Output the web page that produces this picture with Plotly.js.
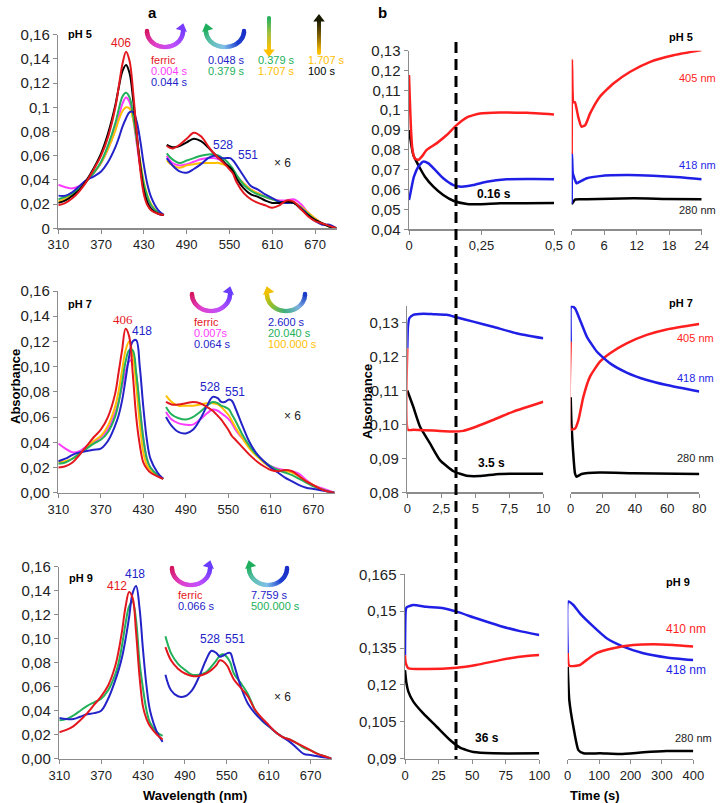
<!DOCTYPE html>
<html>
<head>
<meta charset="utf-8">
<script src="https://cdn.plot.ly/plotly-3.0.1.min.js"></script>
<style>
  body { margin: 0; background: #fff; }
  #chart { width: 720px; height: 803px; }
</style>
</head>
<body>
<div id="chart"></div>
<script>
// ---------- spectra (panel a) ----------
const SORET_NM = [310, 320, 330, 340, 350, 360, 370, 380, 390, 395, 400, 405, 410, 415, 420, 425, 430, 435, 440, 450, 458];
const VIS_NM = [462, 470, 480, 490, 500, 510, 520, 528, 535, 540, 545, 551, 555, 560, 570, 580, 590, 600, 610, 620, 630, 640, 650, 660, 670, 680, 690, 700];

// pH 5
const ph5_ferric_s = [0.019, 0.021, 0.025, 0.031, 0.039, 0.049, 0.060, 0.076, 0.100, 0.118, 0.136, 0.146, 0.138, 0.112, 0.078, 0.048, 0.028, 0.019, 0.015, 0.012, 0.011];
const ph5_100s_s = [0.021, 0.023, 0.027, 0.032, 0.040, 0.050, 0.062, 0.079, 0.102, 0.117, 0.130, 0.135, 0.128, 0.106, 0.078, 0.051, 0.031, 0.021, 0.016, 0.012, 0.011];
const ph5_0004_s = [0.036, 0.034, 0.033, 0.035, 0.040, 0.046, 0.054, 0.066, 0.082, 0.093, 0.103, 0.108, 0.104, 0.090, 0.070, 0.050, 0.033, 0.024, 0.018, 0.012, 0.011];
const ph5_0379_s = [0.024, 0.026, 0.029, 0.033, 0.039, 0.046, 0.055, 0.069, 0.087, 0.099, 0.109, 0.112, 0.108, 0.093, 0.073, 0.053, 0.036, 0.026, 0.019, 0.013, 0.011];
const ph5_1707_s = [0.022, 0.025, 0.028, 0.033, 0.039, 0.046, 0.054, 0.066, 0.081, 0.090, 0.097, 0.100, 0.099, 0.090, 0.073, 0.055, 0.038, 0.027, 0.020, 0.013, 0.011];
const ph5_0044_s = [0.027, 0.027, 0.030, 0.035, 0.040, 0.043, 0.047, 0.055, 0.067, 0.075, 0.084, 0.091, 0.096, 0.096, 0.088, 0.072, 0.052, 0.036, 0.026, 0.015, 0.011];

const ph5_ferric_v = [0.068, 0.066, 0.069, 0.074, 0.079, 0.076, 0.068, 0.062, 0.058, 0.055, 0.052, 0.048, 0.045, 0.038, 0.029, 0.024, 0.021, 0.019, 0.017, 0.019, 0.023, 0.022, 0.016, 0.010, 0.006, 0.004, 0.002, 0.000];
const ph5_100s_v = [0.069, 0.067, 0.068, 0.071, 0.074, 0.072, 0.067, 0.062, 0.058, 0.056, 0.053, 0.050, 0.047, 0.041, 0.033, 0.028, 0.026, 0.023, 0.021, 0.021, 0.022, 0.021, 0.016, 0.011, 0.007, 0.004, 0.0015, 0.000];
const ph5_0044_v = [0.058, 0.052, 0.047, 0.046, 0.049, 0.053, 0.058, 0.060, 0.059, 0.058, 0.058, 0.058, 0.056, 0.052, 0.043, 0.035, 0.032, 0.028, 0.025, 0.022, 0.021, 0.021, 0.017, 0.011, 0.006, 0.003, 0.003, 0.000];
const ph5_0379_v = [0.062, 0.057, 0.054, 0.056, 0.058, 0.060, 0.061, 0.061, 0.060, 0.058, 0.056, 0.052, 0.049, 0.044, 0.036, 0.031, 0.028, 0.026, 0.024, 0.022, 0.021, 0.021, 0.017, 0.012, 0.007, 0.004, 0.0015, 0.000];
const ph5_0004_v = [0.060, 0.054, 0.052, 0.053, 0.055, 0.057, 0.058, 0.058, 0.057, 0.055, 0.053, 0.050, 0.047, 0.043, 0.037, 0.032, 0.029, 0.026, 0.024, 0.023, 0.023, 0.024, 0.020, 0.013, 0.008, 0.004, 0.0015, 0.000];
const ph5_1707_v = [0.056, 0.052, 0.050, 0.052, 0.053, 0.054, 0.054, 0.054, 0.054, 0.053, 0.052, 0.050, 0.047, 0.043, 0.037, 0.032, 0.029, 0.026, 0.024, 0.022, 0.021, 0.021, 0.018, 0.013, 0.008, 0.004, 0.0015, 0.000];

// pH 7
const ph7_ferric_s = [0.020, 0.021, 0.024, 0.030, 0.037, 0.044, 0.050, 0.060, 0.078, 0.095, 0.113, 0.130, 0.124, 0.095, 0.060, 0.038, 0.024, 0.019, 0.016, 0.013, 0.011];
const ph7_100000_s = [0.024, 0.025, 0.027, 0.031, 0.036, 0.041, 0.045, 0.053, 0.068, 0.080, 0.097, 0.113, 0.120, 0.110, 0.085, 0.055, 0.032, 0.022, 0.018, 0.014, 0.011];
const ph7_20040_s = [0.023, 0.024, 0.027, 0.031, 0.035, 0.039, 0.042, 0.048, 0.060, 0.071, 0.087, 0.104, 0.113, 0.113, 0.095, 0.068, 0.043, 0.027, 0.020, 0.014, 0.011];
const ph7_0007_s = [0.039, 0.035, 0.032, 0.033, 0.037, 0.040, 0.044, 0.050, 0.063, 0.072, 0.084, 0.096, 0.104, 0.105, 0.093, 0.068, 0.043, 0.027, 0.020, 0.014, 0.011];
const ph7_0064_s = [0.025, 0.027, 0.030, 0.032, 0.033, 0.034, 0.035, 0.041, 0.053, 0.061, 0.073, 0.090, 0.108, 0.120, 0.121, 0.100, 0.068, 0.042, 0.027, 0.016, 0.011];

const ph7_ferric_v = [0.072, 0.070, 0.070, 0.071, 0.072, 0.071, 0.068, 0.065, 0.061, 0.058, 0.054, 0.049, 0.045, 0.042, 0.036, 0.030, 0.025, 0.021, 0.018, 0.017, 0.018, 0.017, 0.013, 0.009, 0.006, 0.003, 0.001, 0.000];
const ph7_100000_v = [0.077, 0.072, 0.069, 0.069, 0.069, 0.070, 0.071, 0.071, 0.070, 0.068, 0.065, 0.061, 0.057, 0.052, 0.043, 0.035, 0.029, 0.024, 0.020, 0.018, 0.017, 0.016, 0.013, 0.009, 0.006, 0.003, 0.001, 0.000];
const ph7_20040_v = [0.068, 0.062, 0.059, 0.058, 0.060, 0.064, 0.069, 0.072, 0.071, 0.069, 0.068, 0.066, 0.062, 0.057, 0.046, 0.037, 0.030, 0.025, 0.021, 0.018, 0.016, 0.014, 0.011, 0.008, 0.005, 0.003, 0.001, 0.000];
const ph7_0007_v = [0.064, 0.058, 0.055, 0.054, 0.054, 0.058, 0.063, 0.066, 0.065, 0.063, 0.061, 0.058, 0.055, 0.050, 0.043, 0.036, 0.030, 0.025, 0.021, 0.019, 0.018, 0.017, 0.015, 0.010, 0.006, 0.004, 0.002, 0.000];
const ph7_0064_v = [0.060, 0.053, 0.048, 0.047, 0.050, 0.058, 0.069, 0.076, 0.075, 0.072, 0.072, 0.074, 0.073, 0.067, 0.053, 0.040, 0.031, 0.025, 0.020, 0.016, 0.012, 0.009, 0.006, 0.004, 0.003, 0.002, 0.001, 0.000];

// pH 9
const ph9_ferric_s = [0.022, 0.024, 0.027, 0.032, 0.038, 0.045, 0.052, 0.061, 0.077, 0.090, 0.107, 0.127, 0.139, 0.134, 0.105, 0.068, 0.043, 0.033, 0.027, 0.020, 0.016];
const ph9_500000_s = [0.032, 0.033, 0.036, 0.040, 0.044, 0.047, 0.050, 0.057, 0.070, 0.080, 0.095, 0.113, 0.127, 0.131, 0.115, 0.080, 0.058, 0.040, 0.030, 0.022, 0.019];
const ph9_0066_s = [0.034, 0.033, 0.033, 0.035, 0.037, 0.038, 0.040, 0.050, 0.065, 0.074, 0.085, 0.100, 0.118, 0.138, 0.144, 0.125, 0.090, 0.060, 0.040, 0.022, 0.014];

const ph9_ferric_v = [0.093, 0.082, 0.075, 0.071, 0.069, 0.069, 0.071, 0.074, 0.078, 0.082, 0.081, 0.077, 0.072, 0.066, 0.059, 0.052, 0.041, 0.034, 0.028, 0.022, 0.018, 0.016, 0.013, 0.010, 0.007, 0.004, 0.002, 0.000];
const ph9_500000_v = [0.102, 0.088, 0.079, 0.074, 0.070, 0.070, 0.072, 0.077, 0.082, 0.086, 0.087, 0.084, 0.080, 0.071, 0.063, 0.054, 0.041, 0.032, 0.027, 0.022, 0.018, 0.016, 0.013, 0.009, 0.007, 0.004, 0.002, 0.000];
const ph9_0066_v = [0.070, 0.057, 0.052, 0.052, 0.057, 0.068, 0.082, 0.090, 0.088, 0.085, 0.086, 0.088, 0.088, 0.079, 0.060, 0.046, 0.038, 0.032, 0.027, 0.022, 0.018, 0.014, 0.009, 0.004, 0.003, 0.002, 0.001, 0.000];

// ---------- kinetics (panel b) ----------
// pH 5, 0-0.5 s
const k5a_t405 = [0, 0.003, 0.007, 0.012, 0.02, 0.032, 0.044, 0.061, 0.095, 0.13, 0.164, 0.2, 0.245, 0.314, 0.406, 0.5];
const k5a_405 = [0.1177, 0.105, 0.090, 0.080, 0.0757, 0.0749, 0.0766, 0.080, 0.0833, 0.0875, 0.0925, 0.0964, 0.0984, 0.0989, 0.0987, 0.0979];
const k5a_t418 = [0, 0.004, 0.01, 0.017, 0.032, 0.049, 0.067, 0.09, 0.118, 0.153, 0.18, 0.222, 0.268, 0.337, 0.43, 0.5];
const k5a_418 = [0.0548, 0.0575, 0.0620, 0.0665, 0.0715, 0.0741, 0.0732, 0.0699, 0.0657, 0.0623, 0.0615, 0.0623, 0.0640, 0.0652, 0.0653, 0.0652];
const k5a_t280 = [0, 0.015, 0.032, 0.055, 0.084, 0.118, 0.153, 0.2, 0.245, 0.314, 0.5];
const k5a_280 = [0.090, 0.0774, 0.0724, 0.0665, 0.0615, 0.0573, 0.0544, 0.0528, 0.0526, 0.0531, 0.0533];
// pH 5, 0-24 s
const k5b_t405 = [0, 0.05, 0.15, 0.3, 0.6, 1.2, 1.8, 2.5, 3.4, 5.2, 7.7, 10.8, 14.5, 18.8, 24];
const k5b_405 = [0.078, 0.1255, 0.110, 0.104, 0.104, 0.0967, 0.0917, 0.0925, 0.0984, 0.1068, 0.1135, 0.1194, 0.1244, 0.1277, 0.1303];
const k5b_t418 = [0, 0.05, 0.2, 0.4, 0.9, 1.5, 2.8, 5.2, 10.1, 15, 20, 24];
const k5b_418 = [0.053, 0.078, 0.0682, 0.0665, 0.0632, 0.0640, 0.0657, 0.0668, 0.0673, 0.0670, 0.0662, 0.0652];
const k5b_t280 = [0, 0.1, 0.6, 2.8, 11.4, 17.5, 24];
const k5b_280 = [0.0535, 0.0530, 0.0550, 0.0551, 0.0556, 0.0553, 0.0551];

// pH 7, 0-10 s
const k7a_t418 = [0, 0.05, 0.15, 0.44, 1.18, 1.9, 2.9, 3.6, 4.85, 6.3, 8.0, 10];
const k7a_418 = [0.1224, 0.129, 0.1313, 0.1323, 0.1326, 0.1325, 0.1323, 0.1316, 0.1303, 0.1288, 0.1269, 0.1254];
const k7a_t405 = [0, 0.05, 0.44, 1.9, 3.4, 4.1, 5.1, 6.3, 7.8, 10];
const k7a_405 = [0.1224, 0.0984, 0.0984, 0.0982, 0.0979, 0.0981, 0.0994, 0.1013, 0.1038, 0.1067];
const k7a_t280 = [0, 0.44, 0.93, 1.67, 2.4, 3.4, 4.36, 5.3, 6.8, 10];
const k7a_280 = [0.110, 0.1052, 0.0994, 0.0944, 0.0895, 0.0862, 0.0849, 0.0848, 0.0854, 0.0855];
// pH 7, 0-80 s
const k7b_t418 = [0, 0.2, 0.6, 2.7, 5.8, 10, 16.2, 24.5, 34.8, 47.3, 59.7, 80];
const k7b_418 = [0.1244, 0.1349, 0.1349, 0.1342, 0.1308, 0.1259, 0.1215, 0.1180, 0.1153, 0.1131, 0.1116, 0.1097];
const k7b_t405 = [0, 0.2, 2.7, 4.8, 7.9, 12, 18.2, 24.5, 34.8, 47.3, 59.7, 80];
const k7b_405 = [0.1244, 0.0985, 0.0988, 0.1013, 0.1082, 0.1141, 0.1185, 0.1210, 0.1239, 0.1264, 0.1280, 0.1296];
const k7b_t280 = [0, 0.5, 1.5, 2.7, 3.7, 6.8, 18.2, 39, 80];
const k7b_280 = [0.108, 0.100, 0.092, 0.0855, 0.0846, 0.0854, 0.0858, 0.0856, 0.0854];

// pH 9, 0-100 s
const k9a_t418 = [0, 0.5, 1.2, 6.2, 16, 28.5, 38.5, 53, 70.7, 85.6, 100];
const k9a_418 = [0.132, 0.150, 0.1516, 0.1525, 0.1518, 0.1512, 0.1498, 0.1471, 0.1440, 0.1419, 0.1403];
const k9a_t410 = [0, 0.5, 2.5, 16, 38.5, 53, 70.7, 85.6, 100];
const k9a_410 = [0.132, 0.129, 0.1268, 0.1265, 0.1270, 0.1281, 0.1301, 0.1315, 0.1322];
const k9a_t280 = [0, 1, 2.5, 6.2, 13.6, 23.6, 33.5, 41, 50.9, 65.8, 100];
const k9a_280 = [0.126, 0.121, 0.1173, 0.1132, 0.1084, 0.1030, 0.0976, 0.0945, 0.0927, 0.0922, 0.0922];
// pH 9, 0-400 s
const k9b_t418 = [0, 2, 18, 39, 82, 124, 177, 241, 315, 400];
const k9b_418 = [0.133, 0.1539, 0.1525, 0.1491, 0.1437, 0.1390, 0.1356, 0.1329, 0.1312, 0.1301];
const k9b_t410 = [0, 5, 39, 60, 92, 145, 209, 273, 336, 400];
const k9b_410 = [0.133, 0.1278, 0.1281, 0.1301, 0.1329, 0.1349, 0.1362, 0.1365, 0.1362, 0.1356];
const k9b_t280 = [0, 5, 18, 34, 50, 103, 167, 241, 315, 400];
const k9b_280 = [0.1274, 0.1139, 0.1030, 0.0935, 0.0922, 0.0922, 0.0919, 0.0926, 0.0931, 0.0931];

// tick labels
const WL_TICKS = [310, 370, 430, 490, 550, 610, 670];
const SPEC_Y = [0, 0.02, 0.04, 0.06, 0.08, 0.1, 0.12, 0.14, 0.16];
const SPEC_Y_TXT5 = ['0', '0,02', '0,04', '0,06', '0,08', '0,1', '0,12', '0,14', '0,16'];
const SPEC_Y_TXT = ['0,00', '0,02', '0,04', '0,06', '0,08', '0,10', '0,12', '0,14', '0,16'];
const K5_Y = [0.04, 0.05, 0.06, 0.07, 0.08, 0.09, 0.1, 0.11, 0.12, 0.13];
const K5_Y_TXT = ['0,04', '0,05', '0,06', '0,07', '0,08', '0,09', '0,1', '0,11', '0,12', '0,13'];
const K7_Y = [0.08, 0.09, 0.10, 0.11, 0.12, 0.13];
const K7_Y_TXT = ['0,08', '0,09', '0,10', '0,11', '0,12', '0,13'];
const K9_Y = [0.09, 0.105, 0.12, 0.135, 0.15, 0.165];
const K9_Y_TXT = ['0,09', '0,105', '0,12', '0,135', '0,15', '0,165'];

const RED = '#e3171e', MAG = '#ff3cff', BLUE = '#2323c8', GREEN = '#22b05a', YEL = '#ffc000', BLK = '#000000';
const KRED = '#ff1f1f', KBLUE = '#1f1fe6';
const FONT = 'Liberation Sans, Arial, sans-serif';
const W = 720, H = 803;

const fx = p => p / W;
const fy = p => 1 - p / H;

const traces = [];

function spectrum(xa, ya, color, soret, vis) {
  [[SORET_NM, soret], [VIS_NM, vis]].forEach(([x, y]) => {
    traces.push({
      type: 'scatter', mode: 'lines', x: x, y: y, xaxis: xa, yaxis: ya,
      line: { color: color, width: 2, shape: 'spline', smoothing: 1 },
      hoverinfo: 'skip', showlegend: false
    });
  });
}

function kinetic(xa, ya, color, t, v) {
  traces.push({
    type: 'scatter', mode: 'lines', x: t, y: v, xaxis: xa, yaxis: ya,
    line: { color: color, width: 2.5, shape: 'spline', smoothing: 0.5 },
    hoverinfo: 'skip', showlegend: false
  });
}

// order: lighter first, ferric drawn last like the original
spectrum('x', 'y', MAG, ph5_0004_s, ph5_0004_v);
spectrum('x', 'y', YEL, ph5_1707_s, ph5_1707_v);
spectrum('x', 'y', GREEN, ph5_0379_s, ph5_0379_v);
spectrum('x', 'y', BLUE, ph5_0044_s, ph5_0044_v);
spectrum('x', 'y', BLK, ph5_100s_s, ph5_100s_v);
spectrum('x', 'y', RED, ph5_ferric_s, ph5_ferric_v);

spectrum('x2', 'y2', MAG, ph7_0007_s, ph7_0007_v);
spectrum('x2', 'y2', YEL, ph7_100000_s, ph7_100000_v);
spectrum('x2', 'y2', GREEN, ph7_20040_s, ph7_20040_v);
spectrum('x2', 'y2', BLUE, ph7_0064_s, ph7_0064_v);
spectrum('x2', 'y2', RED, ph7_ferric_s, ph7_ferric_v);

spectrum('x3', 'y3', GREEN, ph9_500000_s, ph9_500000_v);
spectrum('x3', 'y3', BLUE, ph9_0066_s, ph9_0066_v);
spectrum('x3', 'y3', RED, ph9_ferric_s, ph9_ferric_v);

kinetic('x4', 'y4', BLK, k5a_t280, k5a_280);
kinetic('x4', 'y4', KBLUE, k5a_t418, k5a_418);
kinetic('x4', 'y4', KRED, k5a_t405, k5a_405);
kinetic('x5', 'y4', BLK, k5b_t280, k5b_280);
kinetic('x5', 'y4', KBLUE, k5b_t418, k5b_418);
kinetic('x5', 'y4', KRED, k5b_t405, k5b_405);

kinetic('x6', 'y6', BLK, k7a_t280, k7a_280);
kinetic('x6', 'y6', KBLUE, k7a_t418, k7a_418);
kinetic('x6', 'y6', KRED, k7a_t405, k7a_405);
kinetic('x7', 'y6', BLK, k7b_t280, k7b_280);
kinetic('x7', 'y6', KRED, k7b_t405, k7b_405);
kinetic('x7', 'y6', KBLUE, k7b_t418, k7b_418);

kinetic('x8', 'y8', BLK, k9a_t280, k9a_280);
kinetic('x8', 'y8', KBLUE, k9a_t418, k9a_418);
kinetic('x8', 'y8', KRED, k9a_t410, k9a_410);
kinetic('x9', 'y8', BLK, k9b_t280, k9b_280);
kinetic('x9', 'y8', KBLUE, k9b_t418, k9b_418);
kinetic('x9', 'y8', KRED, k9b_t410, k9b_410);

// ---------- gradient arrows (drawn in pixel space on x10/y10) ----------
function hex2rgb(h) { return [1, 3, 5].map(i => parseInt(h.slice(i, i + 2), 16)); }
function mix(stops, f) {
  const s = f * (stops.length - 1), i = Math.min(Math.floor(s), stops.length - 2), r = s - i;
  const a = hex2rgb(stops[i]), b = hex2rgb(stops[i + 1]);
  return 'rgb(' + a.map((v, k) => Math.round(v + (b[k] - v) * r)).join(',') + ')';
}
function deco(x, y, color, size, symbol, angle) {
  traces.push({
    type: 'scatter', mode: 'markers', x: x, y: y, xaxis: 'x10', yaxis: 'y10',
    marker: { color: color, size: size, symbol: symbol || 'circle', angle: angle || 0, line: { width: 0 } },
    hoverinfo: 'skip', showlegend: false
  });
}
function arc(cx, cy, rx, ry, stops, headRight) {
  const xs = [], ys = [], cs = [];
  for (let i = 0; i <= 40; i++) {
    const f = i / 40, th = Math.PI * (1 - f);
    xs.push(cx + rx * Math.cos(th)); ys.push(cy + ry * Math.sin(th)); cs.push(mix(stops, f));
  }
  deco(xs, ys, cs, 4.5);
  if (headRight) deco([cx + rx - 1], [cy - 3], stops[stops.length - 1], 10, 'triangle-up', 15);
  else deco([cx - rx + 1], [cy - 3], stops[0], 10, 'triangle-up', -15);
}
function vArrow(x, yTop, yBot, stops, headDown) {
  const xs = [], ys = [], cs = [];
  for (let i = 0; i <= 24; i++) {
    const f = i / 24;
    xs.push(x); ys.push(yTop + (yBot - yTop) * f); cs.push(mix(stops, f));
  }
  deco(xs, ys, cs, 4);
  if (headDown) deco([x], [yBot + 2], stops[stops.length - 1], 10, 'triangle-down');
  else deco([x], [yTop - 2], stops[0], 10, 'triangle-up');
}

arc(165, 31, 18, 16, ['#d4145a', '#e040c8', '#c050ff', '#7a3cff'], true);
arc(225, 31, 19, 16, ['#1fae5e', '#60c0b0', '#80c0e8', '#2040d0', '#1a2ec8'], false);
vArrow(269, 18, 50, ['#1fae5e', '#a0c040', '#ffc000'], true);
vArrow(319, 21, 53, ['#1a1a00', '#806000', '#ffc000'], false);

arc(211, 294, 19, 17, ['#d4145a', '#e040c8', '#c050ff', '#6a3cff'], true);
arc(286, 294, 19, 17, ['#f0c000', '#90c030', '#40b080', '#80b0e0', '#1a3cc8'], false);

arc(191, 568, 19, 17, ['#d4145a', '#e040c8', '#c050ff', '#6a3cff'], true);
arc(268, 568, 19, 17, ['#1fae5e', '#60c0b0', '#80c0e8', '#2040d0', '#1a2ec8'], false);

// ---------- axes ----------
const axBase = {
  showline: true, linecolor: '#8c8c8c', linewidth: 1.5, ticks: 'outside', ticklen: 4,
  tickcolor: '#8c8c8c', showgrid: false, zeroline: false, fixedrange: true,
  tickfont: { family: FONT, size: 13, color: '#222' }, tickmode: 'array'
};
const xa = (dom, range, vals, txt, anchor) => Object.assign({}, axBase, {
  domain: [fx(dom[0]), fx(dom[1])], range: range, tickvals: vals, ticktext: txt || vals.map(String), anchor: anchor
});
const ya = (dom, range, vals, txt, anchor) => Object.assign({}, axBase, {
  domain: [fy(dom[0]), fy(dom[1])], range: range, tickvals: vals, ticktext: txt, anchor: anchor,
  tickfont: { family: FONT, size: 15, color: '#222' }
});

const layout = {
  width: W, height: H,
  margin: { l: 0, r: 0, t: 0, b: 0 },
  paper_bgcolor: '#ffffff', plot_bgcolor: 'rgba(0,0,0,0)',
  showlegend: false,
  font: { family: FONT, size: 12, color: '#222' },

  xaxis: xa([58.3, 336.5], [310, 700], WL_TICKS, null, 'y'),
  yaxis: ya([228.3, 34.7], [0, 0.16], SPEC_Y, SPEC_Y_TXT5, 'x'),
  xaxis2: xa([58.3, 334.6], [310, 700], WL_TICKS, null, 'y2'),
  yaxis2: ya([492.7, 291], [0, 0.16], SPEC_Y, SPEC_Y_TXT, 'x2'),
  xaxis3: xa([59.3, 331.6], [310, 700], WL_TICKS, null, 'y3'),
  yaxis3: ya([758.7, 566.7], [0, 0.16], SPEC_Y, SPEC_Y_TXT, 'x3'),

  xaxis4: xa([409, 554], [0, 0.5], [0, 0.25, 0.5], ['0', '0,25', '0,5'], 'y4'),
  yaxis4: ya([229.3, 50.7], [0.04, 0.13], K5_Y, K5_Y_TXT, 'x4'),
  xaxis5: xa([571.7, 701.7], [0, 24], [0, 6, 12, 18, 24], null, 'y4'),

  xaxis6: xa([407.3, 543.3], [0, 10], [0, 2.5, 5, 7.5, 10], ['0', '2,5', '5', '7,5', '10'], 'y6'),
  yaxis6: ya([492.3, 305.7], [0.08, 0.135], K7_Y, K7_Y_TXT, 'x6'),
  xaxis7: xa([570.7, 699.3], [0, 80], [0, 20, 40, 60, 80], null, 'y6'),

  xaxis8: xa([405, 539.3], [0, 100], [0, 25, 50, 75, 100], null, 'y8'),
  yaxis8: ya([758.7, 574.3], [0.09, 0.165], K9_Y, K9_Y_TXT, 'x8'),
  xaxis9: xa([567.7, 693.3], [0, 400], [0, 100, 200, 300, 400], null, 'y8'),

  xaxis10: { domain: [0, 1], range: [0, W], visible: false, fixedrange: true, anchor: 'y10' },
  yaxis10: { domain: [0, 1], range: [H, 0], visible: false, fixedrange: true, anchor: 'x10' },

  shapes: [{
    type: 'line', xref: 'x10', yref: 'y10', x0: 456, x1: 456, y0: 42, y1: 759,
    line: { color: '#000', width: 3, dash: '11px,6px' }
  }],
  annotations: []
};

function txt(x, y, text, color, size, opts) {
  layout.annotations.push(Object.assign({
    xref: 'x10', yref: 'y10', x: x, y: y, text: text, showarrow: false,
    xanchor: 'center', yanchor: 'middle', borderpad: 0,
    font: { family: FONT, size: size || 12, color: color || '#222' }
  }, opts || {}));
}
const L = { xanchor: 'left' };

txt(152, 12, '<b>a</b>', '#000', 15);
txt(382, 12, '<b>b</b>', '#000', 15);

// pH 5 spectra labels
txt(67, 34, '<b>pH 5</b>', '#000', 11, L);
txt(121, 43, '406', RED, 12);
txt(150, 60, 'ferric', RED, 11, L);
txt(150, 71, '0.004 s', MAG, 11, L);
txt(150, 82, '0.044 s', BLUE, 11, L);
txt(207, 60, '0.048 s', BLUE, 11, L);
txt(207, 71, '0.379 s', GREEN, 11, L);
txt(257, 60, '0.379 s', GREEN, 11, L);
txt(257, 71, '1.707 s', YEL, 11, L);
txt(307, 60, '1.707 s', YEL, 11, L);
txt(307, 71, '100 s', '#000', 11, L);
txt(223, 145, '528', BLUE, 12);
txt(248, 155, '551', BLUE, 12);
txt(282, 163, '× 6', '#222', 12);

// pH 7 spectra labels
txt(67, 304, '<b>pH 7</b>', '#000', 11, L);
txt(123, 319, '406', RED, 13, { font: { family: 'Liberation Serif, serif', size: 13, color: RED } });
txt(142, 331, '418', BLUE, 12);
txt(193, 322, 'ferric', RED, 11, L);
txt(193, 333, '0.007s', MAG, 11, L);
txt(193, 344, '0.064 s', BLUE, 11, L);
txt(267, 322, '2.600 s', BLUE, 11, L);
txt(267, 333, '20.040 s', GREEN, 11, L);
txt(267, 344, '100.000 s', YEL, 11, L);
txt(210, 387, '528', BLUE, 12);
txt(235, 392, '551', BLUE, 12);
txt(292, 416, '× 6', '#222', 12);

// pH 9 spectra labels
txt(68, 578, '<b>pH 9</b>', '#000', 11, L);
txt(117, 586, '412', RED, 12);
txt(135, 574, '418', BLUE, 12);
txt(177, 595, 'ferric', RED, 11, L);
txt(177, 606, '0.066 s', BLUE, 11, L);
txt(250, 595, '7.759 s', BLUE, 11, L);
txt(250, 606, '500.000 s', GREEN, 11, L);
txt(210, 639, '528', BLUE, 12);
txt(235, 639, '551', BLUE, 12);
txt(282, 697, '× 6', '#222', 12);

// kinetics labels
txt(681, 37, '<b>pH 5</b>', '#000', 11);
txt(678, 78, '405 nm', KRED, 11, L);
txt(678, 165, '418 nm', KBLUE, 11, L);
txt(678, 210, '280 nm', '#222', 11, L);
txt(494, 194, '<b>0.16 s</b>', '#000', 12);

txt(681, 303, '<b>pH 7</b>', '#000', 11);
txt(676, 338, '405 nm', KRED, 11, L);
txt(676, 378, '418 nm', KBLUE, 11, L);
txt(676, 458, '280 nm', '#222', 11, L);
txt(491, 463, '<b>3.5 s</b>', '#000', 12);

txt(678, 582, '<b>pH 9</b>', '#000', 11);
txt(665, 629, '410 nm', KRED, 12, L);
txt(665, 670, '418 nm', KBLUE, 12, L);
txt(674, 738, '280 nm', '#222', 11, L);
txt(487, 738, '<b>36 s</b>', '#000', 12);

// axis titles
txt(15, 387, '<b>Absorbance</b>', '#000', 13, { textangle: -90 });
txt(367, 402, '<b>Absorbance</b>', '#000', 13, { textangle: -90 });
txt(195, 795, '<b>Wavelength (nm)</b>', '#000', 13);
txt(595, 795, '<b>Time (s)</b>', '#000', 13);

Plotly.newPlot('chart', traces, layout, { staticPlot: true, displayModeBar: false });
</script>
</body>
</html>
